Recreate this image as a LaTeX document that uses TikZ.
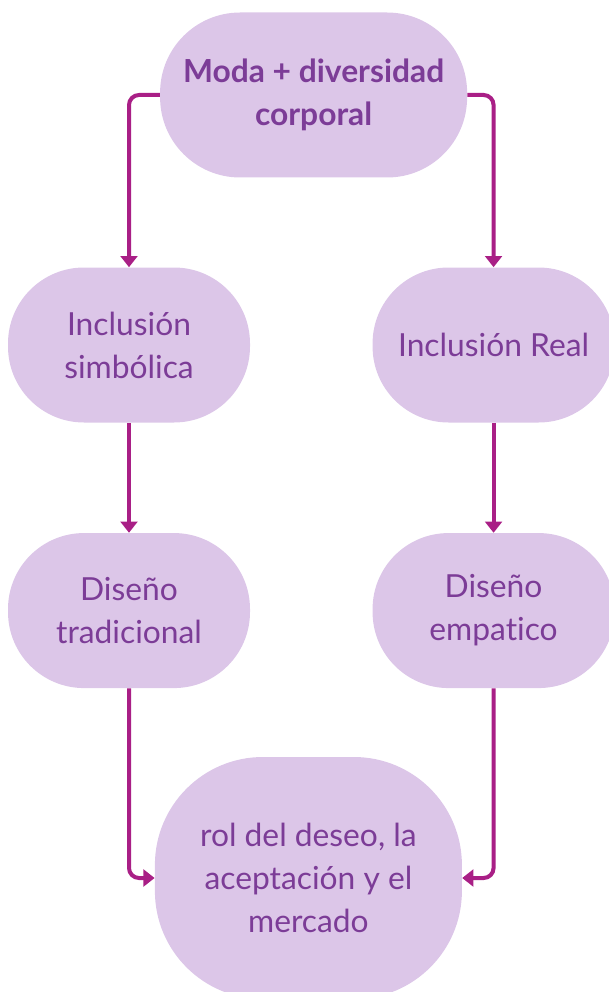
\documentclass[tikz,border=0pt]{standalone}
\usepackage{fontspec}
\setmainfont{Lato}[Ligatures={NoCommon}]
\usetikzlibrary{positioning,arrows.meta}
\definecolor{boxfill}{HTML}{DCC6E8}
\definecolor{boxtext}{HTML}{7C3C97}
\definecolor{linkcol}{HTML}{A91F86}
\tikzset{
  box/.style = {rectangle, fill=boxfill, text=boxtext, align=center, inner sep=0pt,
    minimum width=6.05cm, minimum height=3.875cm, rounded corners=1.9cm,
    font=\fontsize{22.6}{30.6}\selectfont},
  bigbox/.style = {box, minimum width=7.675cm, minimum height=4.125cm, rounded corners=2cm,
    font=\fontsize{22.6}{30.6}\selectfont\bfseries},
  roundbox/.style = {box, minimum width=7.675cm, minimum height=6.05cm, rounded corners=2.7cm},
  link/.style = {line width=0.1cm, draw=linkcol, rounded corners=0.25cm,
    -{Triangle[width=0.42cm,length=0.28cm]}}
}
\begin{document}
\begin{tikzpicture}
  \useasboundingbox (0,0) rectangle (15.225,-24.8);
  \begin{scope}
    \clip (0,0) rectangle (15.225,-24.8);
    \node (moda) [bigbox] at (7.84,-2.375) {Moda + diversidad\\corporal};
    \node (simb) [box] at (3.225,-8.625) {Inclusión\\simbólica};
    \node (real) [box, right=3.05cm of simb] {Inclusión Real};
    \node (trad) [box, below=2.75cm of simb] {Diseño\\tradicional};
    \node (emp) [box, below=2.75cm of real] {Diseño\\empatico};
    \node (rol) [roundbox] at (7.71,-21.95) {rol del deseo, la\\aceptación y el\\mercado};
  \end{scope}
  \draw [link] (moda.west) -| (simb.north);
  \draw [link] (moda.east) -| (real.north);
  \draw [link] (simb) -- (trad);
  \draw [link] (real) -- (emp);
  \draw [link] (trad.south) |- (rol.west);
  \draw [link] (emp.south) |- (rol.east);
\end{tikzpicture}
\end{document}
